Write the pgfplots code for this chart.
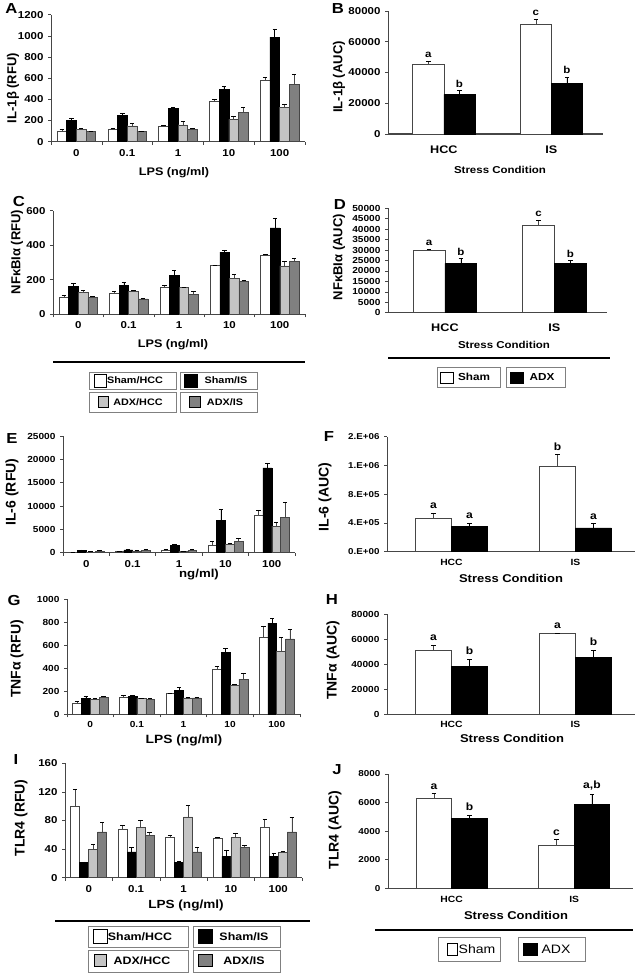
\documentclass[border=0pt]{standalone}
\usepackage{fontspec}
\setmainfont{Liberation Sans}[FakeStretch=1.15]
\newfontfamily\plainfont{Liberation Sans}
\usepackage{pgfplots}
\pgfplotsset{compat=1.18}
\usepackage{pgfplotstable}

\definecolor{lgray}{RGB}{196,196,196}
\definecolor{dgray}{RGB}{128,128,128}
\definecolor{edge}{RGB}{70,70,70}

% LPS panels: x value(white) err black err lightgray err darkgray err
\pgfplotstableread{
x w we b be l le d de
0 100 15 205 20 118 4 100 3
1 118 6 248 22 150 20 100 3
2 150 5 312 13 160 30 118 4
3 378 22 492 28 212 31 280 45
4 578 27 988 77 325 25 540 100
}\tA
\pgfplotstableread{
x w we b be l le d de
0 100 8 160 18 125 13 97 6
1 123 12 167 21 133 5 90 5
2 155 15 225 28 155 3 115 18
3 282 4 360 10 210 20 192 6
4 343 3 500 58 280 25 305 20
}\tC
\pgfplotstableread{
x w we b be l le d de
0 100 50 500 100 150 50 350 100
1 250 50 600 150 400 100 500 150
2 600 200 1500 400 300 50 500 200
3 1700 700 7000 2400 1800 200 2500 600
4 8000 1100 18200 1000 5700 800 7500 3200
}\tE
\pgfplotstableread{
x w we b be l le d de
0 100 15 140 20 130 5 148 7
1 150 18 157 5 138 4 130 12
2 180 5 210 20 142 4 143 7
3 395 25 540 35 248 14 305 50
4 670 90 790 40 545 120 655 85
}\tG
\pgfplotstableread{
x w we b be l le d de
0 100 24 21 1 40 7 64 13
1 68 6 36 6 70 10 59 4
2 57 2 21 2 85 16 36 7
3 55 1 30 9 56 6 42 4
4 71 11 30 4 35 2 64 20
}\tI
% AUC panels: x sham err adx err
\pgfplotstableread{
x s se a ae
0 45300 2200 25800 2400
1 71300 3500 33000 3900
}\tB
\pgfplotstableread{
x s se a ae
0 30000 500 23600 2400
1 41700 2700 23600 1300
}\tD
\pgfplotstableread{
x s se a ae
0 465000 70000 350000 46000
1 1190000 160000 330000 65000
}\tF
\pgfplotstableread{
x s se a ae
0 51300 4100 38000 5900
1 64700 300 45500 5800
}\tH
\pgfplotstableread{
x s se a ae
0 6300 340 4870 260
1 3000 430 5850 750
}\tJ

\pgfplotsset{
  base/.style={scale only axis, axis x line*=bottom, axis y line*=left,
    ymin=0, tick align=outside, major tick length=3pt,
    scaled y ticks=false,
    axis line style={line width=0.8pt, color=edge},
    tick style={color=edge, line width=0.6pt}, clip=false,
    /pgf/number format/assume math mode=true,
    tick label style={font=\bfseries\fontsize{10}{11}\selectfont},
    yticklabel style={xshift=-1pt},
    error bars/y dir=plus, error bars/y explicit,
    error bars/error mark options={rotate=90, mark size=2.2pt, line width=0.6pt},
    error bars/error bar style={line width=0.6pt}},
  lps/.style={base, xmin=-0.5, xmax=4.5, xtick={-0.5,0.5,...,4.5}, xticklabels={},
    extra x ticks={0,1,2,3,4}, extra x tick labels={0,0.1,1,10,100},
    extra x tick style={major tick length=0pt, xticklabel style={yshift=-4pt}}},
  auc/.style={base, xmin=-0.52, xmax=1.48, xtick={0,1}, xticklabels={HCC,IS},
    xtick style={draw=none}},
  s1/.style={ybar, bar width=0.19, bar shift=0, fill=white, draw=edge, line width=0.5pt},
  s2/.style={ybar, bar width=0.19, bar shift=0, fill=black, draw=black, line width=0.5pt},
  s3/.style={ybar, bar width=0.19, bar shift=0, fill=lgray, draw=edge, line width=0.5pt},
  s4/.style={ybar, bar width=0.19, bar shift=0, fill=dgray, draw=edge, line width=0.5pt},
  sham/.style={ybar, bar width=0.29, bar shift=0, fill=white, draw=edge, line width=0.6pt},
  adx/.style={ybar, bar width=0.29, bar shift=0, fill=black, draw=black, line width=0.6pt},
}
\newcommand{\lpsplots}[1]{%
  \addplot[s1] table[x expr=\thisrow{x}-0.285,y=w,y error=we]{#1};
  \addplot[s2] table[x expr=\thisrow{x}-0.095,y=b,y error=be]{#1};
  \addplot[s3] table[x expr=\thisrow{x}+0.095,y=l,y error=le]{#1};
  \addplot[s4] table[x expr=\thisrow{x}+0.285,y=d,y error=de]{#1};}
\newcommand{\aucplots}[1]{%
  \addplot[sham] table[x expr=\thisrow{x}-0.145,y=s,y error=se]{#1};
  \addplot[adx] table[x expr=\thisrow{x}+0.145,y=a,y error=ae]{#1};}

\tikzset{
  let/.style={font=\bfseries\fontsize{10}{12}\selectfont, anchor=south, inner sep=1pt, yshift=2pt},
  letb/.style={font=\bfseries\fontsize{10.5}{12}\selectfont, anchor=south, inner sep=1pt, yshift=3pt},
  plet/.style={font=\bfseries\fontsize{14.5}{16}\selectfont},
  yl/.style={rotate=90, font=\plainfont\bfseries\fontsize{#1}{15}\selectfont},
  xl/.style={font=\bfseries\fontsize{#1}{15}\selectfont},
  lbox/.style={draw=gray, line width=1pt},
  sw/.style={draw=black, line width=0.6pt},
}

\begin{document}
\begin{tikzpicture}
\useasboundingbox (0,0) rectangle (642pt,-975pt);

% ---------------- A
\begin{axis}[lps, at={(51pt,-141.7pt)}, anchor=south west, width=254pt, height=127pt,
  ymax=1200, ytick={0,200,...,1200}, yticklabels={0,200,400,600,800,1000,1200}]
\lpsplots{\tA}
\end{axis}
% ---------------- B
\begin{axis}[auc, at={(388pt,-134pt)}, anchor=south west, width=215pt, height=123pt,
  ymax=80000, ytick={0,20000,...,80000}, yticklabels={0,20000,40000,60000,80000},
  xticklabel style={font=\bfseries\fontsize{11}{13}\selectfont, yshift=-5pt},
  x axis line style={line width=1.8pt}]
\aucplots{\tB}
\node[let] at (axis cs:-0.145,47500) {a};
\node[let] at (axis cs:0.145,28200) {b};
\node[let] at (axis cs:0.855,74800) {c};
\node[let] at (axis cs:1.145,36900) {b};
\end{axis}
% ---------------- C
\begin{axis}[lps, at={(53pt,-314.3pt)}, anchor=south west, width=252pt, height=103.6pt,
  ymax=600, ytick={0,200,...,600}, yticklabels={0,200,400,600}]
\lpsplots{\tC}
\end{axis}
% ---------------- D
\begin{axis}[auc, at={(388pt,-312.7pt)}, anchor=south west, width=219pt, height=104.4pt,
  ymax=50000, ytick={0,5000,...,50000},
  yticklabels={0,5000,10000,15000,20000,25000,30000,35000,40000,45000,50000},
  yticklabel style={font=\bfseries\fontsize{8.8}{9}\selectfont},
  xticklabel style={font=\bfseries\fontsize{11}{13}\selectfont, yshift=-5pt}]
\aucplots{\tD}
\node[let] at (axis cs:-0.145,30500) {a};
\node[let] at (axis cs:0.145,26000) {b};
\node[let] at (axis cs:0.855,44400) {c};
\node[let] at (axis cs:1.145,24900) {b};
\end{axis}
% ---------------- E
\begin{axis}[lps, at={(63pt,-552.7pt)}, anchor=south west, width=232pt, height=116.7pt,
  ymax=25000, ytick={0,5000,...,25000}, yticklabels={0,5000,10000,15000,20000,25000},
  yticklabel style={font=\bfseries\fontsize{8.8}{9}\selectfont}]
\lpsplots{\tE}
\end{axis}
% ---------------- F
\begin{axis}[auc, at={(387pt,-551.7pt)}, anchor=south west, width=248pt, height=115pt,
  ymax=1600000, ytick={0,400000,800000,1200000,1600000},
  yticklabels={0.E+00,4.E+05,8.E+05,1.E+06,2.E+06},
  yticklabel style={font=\bfseries\fontsize{8.5}{10}\selectfont},
  xticklabel style={font=\bfseries\fontsize{9}{11}\selectfont, yshift=-1pt}]
\aucplots{\tF}
\node[letb] at (axis cs:-0.145,535000) {a};
\node[letb] at (axis cs:0.145,396000) {a};
\node[letb] at (axis cs:0.855,1350000) {b};
\node[letb] at (axis cs:1.145,395000) {a};
\end{axis}
% ---------------- G
\begin{axis}[lps, at={(67pt,-714.3pt)}, anchor=south west, width=233pt, height=115.3pt,
  ymax=1000, ytick={0,200,...,1000}, yticklabels={0,200,400,600,800,1000},
  tick label style={font=\bfseries\fontsize{8.8}{10}\selectfont}]
\lpsplots{\tG}
\end{axis}
% ---------------- H
\begin{axis}[auc, at={(387pt,-714pt)}, anchor=south west, width=248pt, height=99.7pt,
  ymax=80000, ytick={0,20000,...,80000}, yticklabels={0,20000,40000,60000,80000},
  yticklabel style={font=\bfseries\fontsize{8.8}{10}\selectfont},
  xticklabel style={font=\bfseries\fontsize{9}{11}\selectfont, yshift=-1pt}]
\aucplots{\tH}
\node[letb] at (axis cs:-0.145,55400) {a};
\node[letb] at (axis cs:0.145,43900) {b};
\node[letb] at (axis cs:0.855,65000) {a};
\node[letb] at (axis cs:1.145,51300) {b};
\end{axis}
% ---------------- I
\begin{axis}[lps, at={(65pt,-877.7pt)}, anchor=south west, width=237pt, height=114.4pt,
  ymax=160, ytick={0,40,...,160}, yticklabels={0,40,80,120,160}]
\lpsplots{\tI}
\end{axis}
% ---------------- J
\begin{axis}[auc, at={(388pt,-888.3pt)}, anchor=south west, width=245pt, height=114.3pt,
  ymax=8000, ytick={0,2000,...,8000}, yticklabels={0,2000,4000,6000,8000},
  yticklabel style={font=\bfseries\fontsize{8.6}{10}\selectfont},
  xticklabel style={font=\bfseries\fontsize{9}{11}\selectfont, yshift=-1pt}]
\aucplots{\tJ}
\node[letb] at (axis cs:-0.145,6640) {a};
\node[letb] at (axis cs:0.145,5130) {b};
\node[letb] at (axis cs:0.855,3430) {c};
\node[letb] at (axis cs:1.145,6600) {a,b};
\end{axis}

% panel letters
\node[plet] at (11.5pt,-9pt) {A};
\node[plet] at (338pt,-9pt) {B};
\node[plet] at (19pt,-202pt) {C};
\node[plet] at (340pt,-205pt) {D};
\node[plet] at (12pt,-439pt) {E};
\node[plet] at (329pt,-437pt) {F};
\node[plet] at (14pt,-600pt) {G};
\node[plet] at (332pt,-600pt) {H};
\node[plet] at (16pt,-760pt) {I};
\node[plet] at (337pt,-770pt) {J};

% y labels
\node[yl=13] at (13pt,-88pt) {IL-1β (RFU)};
\node[yl=13] at (339pt,-77pt) {IL-1β (AUC)};
\node[yl=13] at (17pt,-252pt) {NFκBIα (RFU)};
\node[yl=13] at (339pt,-257pt) {NFκBIα (AUC)};
\node[yl=14] at (12pt,-492pt) {IL-6 (RFU)};
\node[yl=14] at (325pt,-497pt) {IL-6 (AUC)};
\node[yl=14] at (17pt,-659pt) {TNFα (RFU)};
\node[yl=14] at (333pt,-660pt) {TNFα (AUC)};
\node[yl=14] at (21pt,-818pt) {TLR4 (RFU)};
\node[yl=14] at (335pt,-830pt) {TLR4 (AUC)};

% x labels
\node[xl=11] at (174pt,-173pt) {LPS (ng/ml)};
\node[xl=10] at (500pt,-170pt) {Stress Condition};
\node[xl=11] at (173pt,-345pt) {LPS (ng/ml)};
\node[xl=10] at (504pt,-345pt) {Stress Condition};
\node[xl=11.5] at (199pt,-575pt) {ng/ml)};
\node[xl=11.3] at (511pt,-578pt) {Stress Condition};
\node[xl=12] at (184pt,-740pt) {LPS (ng/ml)};
\node[xl=11.3] at (512pt,-738pt) {Stress Condition};
\node[xl=11.8] at (186pt,-905pt) {LPS (ng/ml)};
\node[xl=11.3] at (516pt,-915pt) {Stress Condition};

% separator lines
\draw[line width=1.5pt] (53pt,-362pt) -- (305pt,-362pt);
\draw[line width=1.5pt] (388pt,-358pt) -- (610pt,-358pt);
\draw[line width=1.5pt] (55pt,-921pt) -- (310pt,-921pt);
\draw[line width=1.5pt] (375pt,-930pt) -- (633pt,-930pt);

% legend C
\draw[lbox] (89pt,-372pt) rectangle (176pt,-389pt);
\draw[sw, fill=white] (94pt,-374pt) rectangle (106pt,-387pt);
\node[xl=9.4] at (135pt,-380.5pt) {Sham/HCC};
\draw[lbox] (180pt,-372pt) rectangle (257pt,-389pt);
\draw[sw, fill=black] (184pt,-374pt) rectangle (197pt,-387pt);
\node[xl=9.4] at (226pt,-380.5pt) {Sham/IS};
\draw[lbox] (89pt,-392pt) rectangle (176pt,-412pt);
\draw[sw, fill=lgray] (98pt,-396pt) rectangle (108pt,-407pt);
\node[xl=9.4] at (138pt,-402pt) {ADX/HCC};
\draw[lbox] (180pt,-392pt) rectangle (257pt,-412pt);
\draw[sw, fill=dgray] (189pt,-396pt) rectangle (200pt,-407pt);
\node[xl=9.4] at (225pt,-402pt) {ADX/IS};

% legend D
\draw[lbox] (437pt,-367pt) rectangle (500pt,-387pt);
\draw[sw, fill=white] (440pt,-372pt) rectangle (453pt,-383pt);
\node[xl=10.2] at (474pt,-377pt) {Sham};
\draw[lbox] (506pt,-367pt) rectangle (565pt,-387pt);
\draw[sw, fill=black] (510pt,-372pt) rectangle (523pt,-383pt);
\node[xl=10.2] at (542pt,-377pt) {ADX};

% legend I
\draw[lbox] (88pt,-926pt) rectangle (188pt,-947pt);
\draw[sw, fill=white] (93pt,-929pt) rectangle (107pt,-943pt);
\node[xl=10.8] at (140pt,-936.5pt) {Sham/HCC};
\draw[lbox] (193pt,-926pt) rectangle (280pt,-947pt);
\draw[sw, fill=black] (198pt,-929pt) rectangle (212pt,-943pt);
\node[xl=10.8] at (244pt,-936.5pt) {Sham/IS};
\draw[lbox] (88pt,-950pt) rectangle (188pt,-972pt);
\draw[sw, fill=lgray] (94pt,-954pt) rectangle (106pt,-966pt);
\node[xl=10.8] at (142pt,-961pt) {ADX/HCC};
\draw[lbox] (193pt,-950pt) rectangle (280pt,-972pt);
\draw[sw, fill=dgray] (198pt,-954pt) rectangle (212pt,-966pt);
\node[xl=10.8] at (244pt,-961pt) {ADX/IS};

% legend J
\draw[lbox] (438pt,-937pt) rectangle (500pt,-961pt);
\draw[sw, fill=white] (447pt,-943pt) rectangle (457pt,-955pt);
\node[font=\fontsize{12.2}{14}\selectfont] at (477pt,-949pt) {Sham};
\draw[lbox] (518pt,-937pt) rectangle (585pt,-961pt);
\draw[sw, fill=black] (523pt,-943pt) rectangle (537pt,-955pt);
\node[font=\fontsize{12.2}{14}\selectfont] at (556pt,-949pt) {ADX};
\end{tikzpicture}
\end{document}
